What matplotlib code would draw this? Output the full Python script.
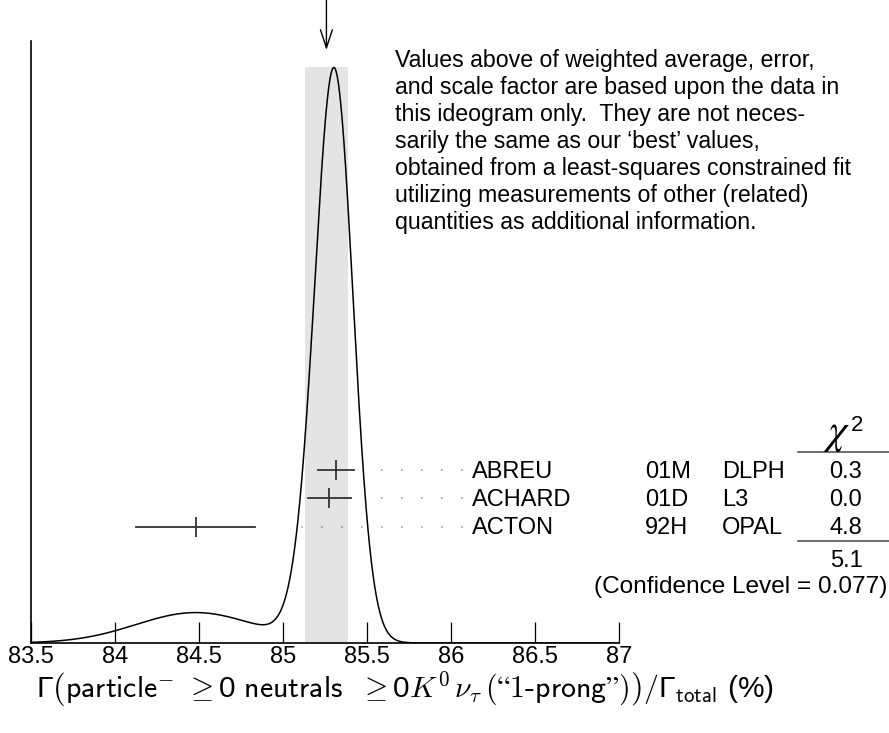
import numpy as np
import matplotlib
matplotlib.use("Agg")
import matplotlib.pyplot as plt

# measurements in the ideogram
names = ["ABREU", "ACHARD", "ACTON"]
years = ["01M", "01D", "92H"]
experiments = ["DLPH", "L3", "OPAL"]
values = np.array([85.316, 85.274, 84.48])
errors = np.array([0.105, 0.128, 0.355])
chi2_labels = ["0.3", "0.0", "4.8"]
chi2_total = "5.1"
conf_level = "0.077"
x_ticks = [83.5, 84, 84.5, 85, 85.5, 86, 86.5, 87]
tick_labels = ["83.5", "84", "84.5", "85", "85.5", "86", "86.5", "87"]

note_lines = [
    "Values above of weighted average, error,",
    "and scale factor are based upon the data in",
    "this ideogram only.  They are not neces-",
    "sarily the same as our \u2018best\u2019 values,",
    "obtained from a least-squares constrained fit",
    "utilizing measurements of other (related)",
    "quantities as additional information.",
]

plt.rcParams["font.family"] = ["Liberation Sans", "DejaVu Sans"]
plt.rcParams["lines.scale_dashes"] = False

W, H = 889, 733
fig = plt.figure(figsize=(W / 100, H / 100), dpi=100)
ax = fig.add_axes([31 / W, 1 - 643 / H, 588 / W, 602 / H])

# weighted average, scale factor
w = 1 / errors**2
mean = np.sum(w * values) / np.sum(w)
chi2 = np.sum(w * (values - mean) ** 2)
scale = np.sqrt(chi2 / (len(values) - 1))
err = scale / np.sqrt(np.sum(w))

# ideogram: gaussians with area ~ 1/sigma
xs = np.linspace(83.5, 87, 3000)
curve = np.zeros_like(xs)
for v, e in zip(values, errors):
    curve += (1 / e) * np.exp(-0.5 * ((xs - v) / e) ** 2) / (e * np.sqrt(2 * np.pi))
top = curve.max()

ax.set_xlim(83.5, 87)
ax.set_ylim(0, top / 0.956)
ax.fill_between([mean - err, mean + err], 0, top, color="#e4e4e4", lw=0, zorder=0)
ax.plot(xs, curve, color="black", lw=1.1, zorder=3)

ax.annotate("", xy=(mean, 0.985), xycoords=ax.get_xaxis_transform(),
            xytext=(mean, 1.07), textcoords=ax.get_xaxis_transform(),
            arrowprops=dict(arrowstyle="->,head_length=1.3,head_width=0.43",
                            lw=1, color="black", shrinkA=0, shrinkB=0,
                            mutation_scale=10),
            annotation_clip=False)

# error bars with dotted leaders
trans = ax.get_xaxis_transform()
row0 = (643 - 469.5) / 602
step = 28.5 / 602
dots_end = 83.5 + (462 - 31) / 168
for i, (v, e) in enumerate(zip(values, errors)):
    y = row0 - i * step
    ax.plot([v - e, v + e], [y, y], color="#333333", lw=1.3, transform=trans,
            clip_on=False, zorder=4)
    ax.plot([v], [y], marker="|", ms=14.5, mew=1.3, color="#333333",
            transform=trans, clip_on=False, zorder=4)
    ax.plot([dots_end, v + e + 0.16], [y, y], color="#555555", lw=1.1,
            ls=(0, (0.01, 14.4)), dash_capstyle="round", transform=trans,
            clip_on=False, zorder=2)

for s in ["top", "right"]:
    ax.spines[s].set_visible(False)
ax.spines["left"].set_linewidth(1.2)
ax.spines["bottom"].set_linewidth(1.2)
ax.set_yticks([])
ax.set_xticks(x_ticks)
ax.set_xticklabels(tick_labels)
ax.tick_params(axis="x", direction="in", length=15, width=0.9, pad=2,
               labelsize=17)

# text overlay in pixel coordinates
ov = fig.add_axes([0, 0, 1, 1], facecolor="none")
ov.set_xlim(0, W)
ov.set_ylim(H, 0)
ov.axis("off")

xlabel = (r"$\mathdefault{Γ}\left(\mathsf{particle}^{-}\ \geq \mathdefault{0}\ \mathsf{neutrals}\ \ "
          r"\geq \mathdefault{0}K^0\,\nu_\tau\,(\mathsf{“1}\text{-}\mathsf{prong”})\right)"
          r"/\mathdefault{Γ}_{\mathsf{total}}\ \mathdefault{(\%)}$")
ov.text(405, 698, xlabel, fontsize=21.5, math_fontfamily="cm",
        va="baseline", ha="center")

fs = 16.7
for i, line in enumerate(note_lines):
    ov.text(395, 67 + 27 * i, line, fontsize=fs, va="baseline", ha="left")

for i in range(len(names)):
    yb = 478.5 + 27.5 * i
    ov.text(472, yb, names[i], fontsize=17, va="baseline", ha="left")
    ov.text(645, yb, years[i], fontsize=17, va="baseline", ha="left")
    ov.text(722, yb, experiments[i], fontsize=17, va="baseline", ha="left")
    ov.text(846, yb, chi2_labels[i], fontsize=17, va="baseline", ha="center")

ov.text(837, 443, r"$\chi$", fontsize=30, va="baseline", ha="center",
        math_fontfamily="stix")
ov.text(851, 431, "2", fontsize=16, va="baseline", ha="left")
ov.plot([798, 889], [452, 452], color="#444444", lw=1.1)
ov.plot([798, 889], [541, 541], color="#444444", lw=1.1)
ov.text(846, 567, chi2_total, fontsize=17, va="baseline", ha="center")
ov.text(887, 593, "(Confidence Level = " + conf_level + ")", fontsize=17.6,
        va="baseline", ha="right")

fig.savefig("out.png", dpi=100)
